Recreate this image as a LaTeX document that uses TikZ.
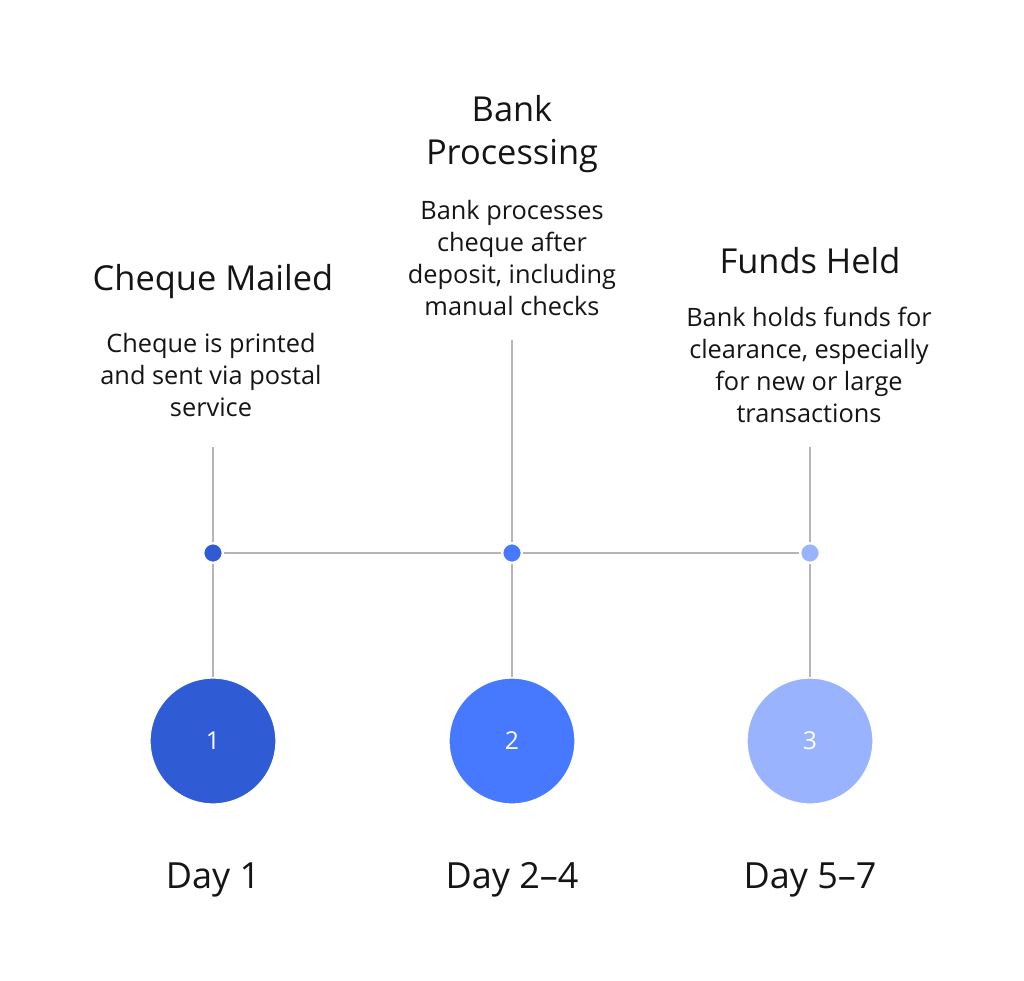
\documentclass[tikz,border=0pt]{standalone}
\usepackage{fontspec}
\setmainfont{Open Sans}
\definecolor{cA}{HTML}{2F5BD4}
\definecolor{cB}{HTML}{4679FF}
\definecolor{cC}{HTML}{99B3FF}
\definecolor{lineg}{HTML}{B5B5B5}
\definecolor{txt}{HTML}{151515}
\begin{document}
\begin{tikzpicture}[x=0.75pt,y=-0.75pt,
  conn/.style={draw=lineg,line width=1.5pt},
  dot/.style={circle,inner sep=0pt,minimum size=14.5pt,draw=white,line width=1.5pt},
  bigc/.style={circle,inner sep=0pt,minimum size=95pt,draw=white,line width=1.5pt,text=white,font=\fontsize{18.5}{20}\selectfont},
  ttl/.style={text=txt,align=center,font=\fontsize{25.8}{32.3}\selectfont,inner sep=0pt},
  desc/.style={text=txt,align=center,font=\fontsize{19}{24}\selectfont,inner sep=0pt},
  day/.style={text=txt,font=\fontsize{27}{30}\selectfont,inner sep=0pt}]
\useasboundingbox (0,0) rectangle (1024,981);
\fill[white] (0,0) rectangle (1024,981);
% nodes
\node[dot,fill=cA] (d1) at (213,553) {};
\node[dot,fill=cB] (d2) at (512,553) {};
\node[dot,fill=cC] (d3) at (810,553) {};
\node[bigc,fill=cA] (c1) at (213,741) {1};
\node[bigc,fill=cB] (c2) at (512,741) {2};
\node[bigc,fill=cC] (c3) at (810,741) {3};
\coordinate (t1) at (213,447);
\coordinate (t2) at (512,340);
\coordinate (t3) at (810,447);
% connectors
\draw[conn] (d1) -- (d2);
\draw[conn] (d2) -- (d3);
\draw[conn] (t1) -- (d1);
\draw[conn] (d1) -- (c1);
\draw[conn] (t2) -- (d2);
\draw[conn] (d2) -- (c2);
\draw[conn] (t3) -- (d3);
\draw[conn] (d3) -- (c3);
% texts
\node[ttl] (h1) at (213,282) {Cheque Mailed};
\node[desc] (p1) at (211,375) {Cheque is printed\\and sent via postal\\service};
\node[ttl] (h2) at (512,134) {Bank\\Processing};
\node[desc] (p2) at (512,257.5) {Bank processes\\cheque after\\deposit, including\\manual checks};
\node[ttl] (h3) at (810,261) {Funds Held};
\node[desc] (p3) at (809,364.5) {Bank holds funds for\\clearance, especially\\for new or large\\transactions};
\node[day] (y1) at (213,880) {Day 1};
\node[day] (y2) at (512,880) {Day 2--4};
\node[day] (y3) at (810,880) {Day 5--7};
\end{tikzpicture}
\end{document}
